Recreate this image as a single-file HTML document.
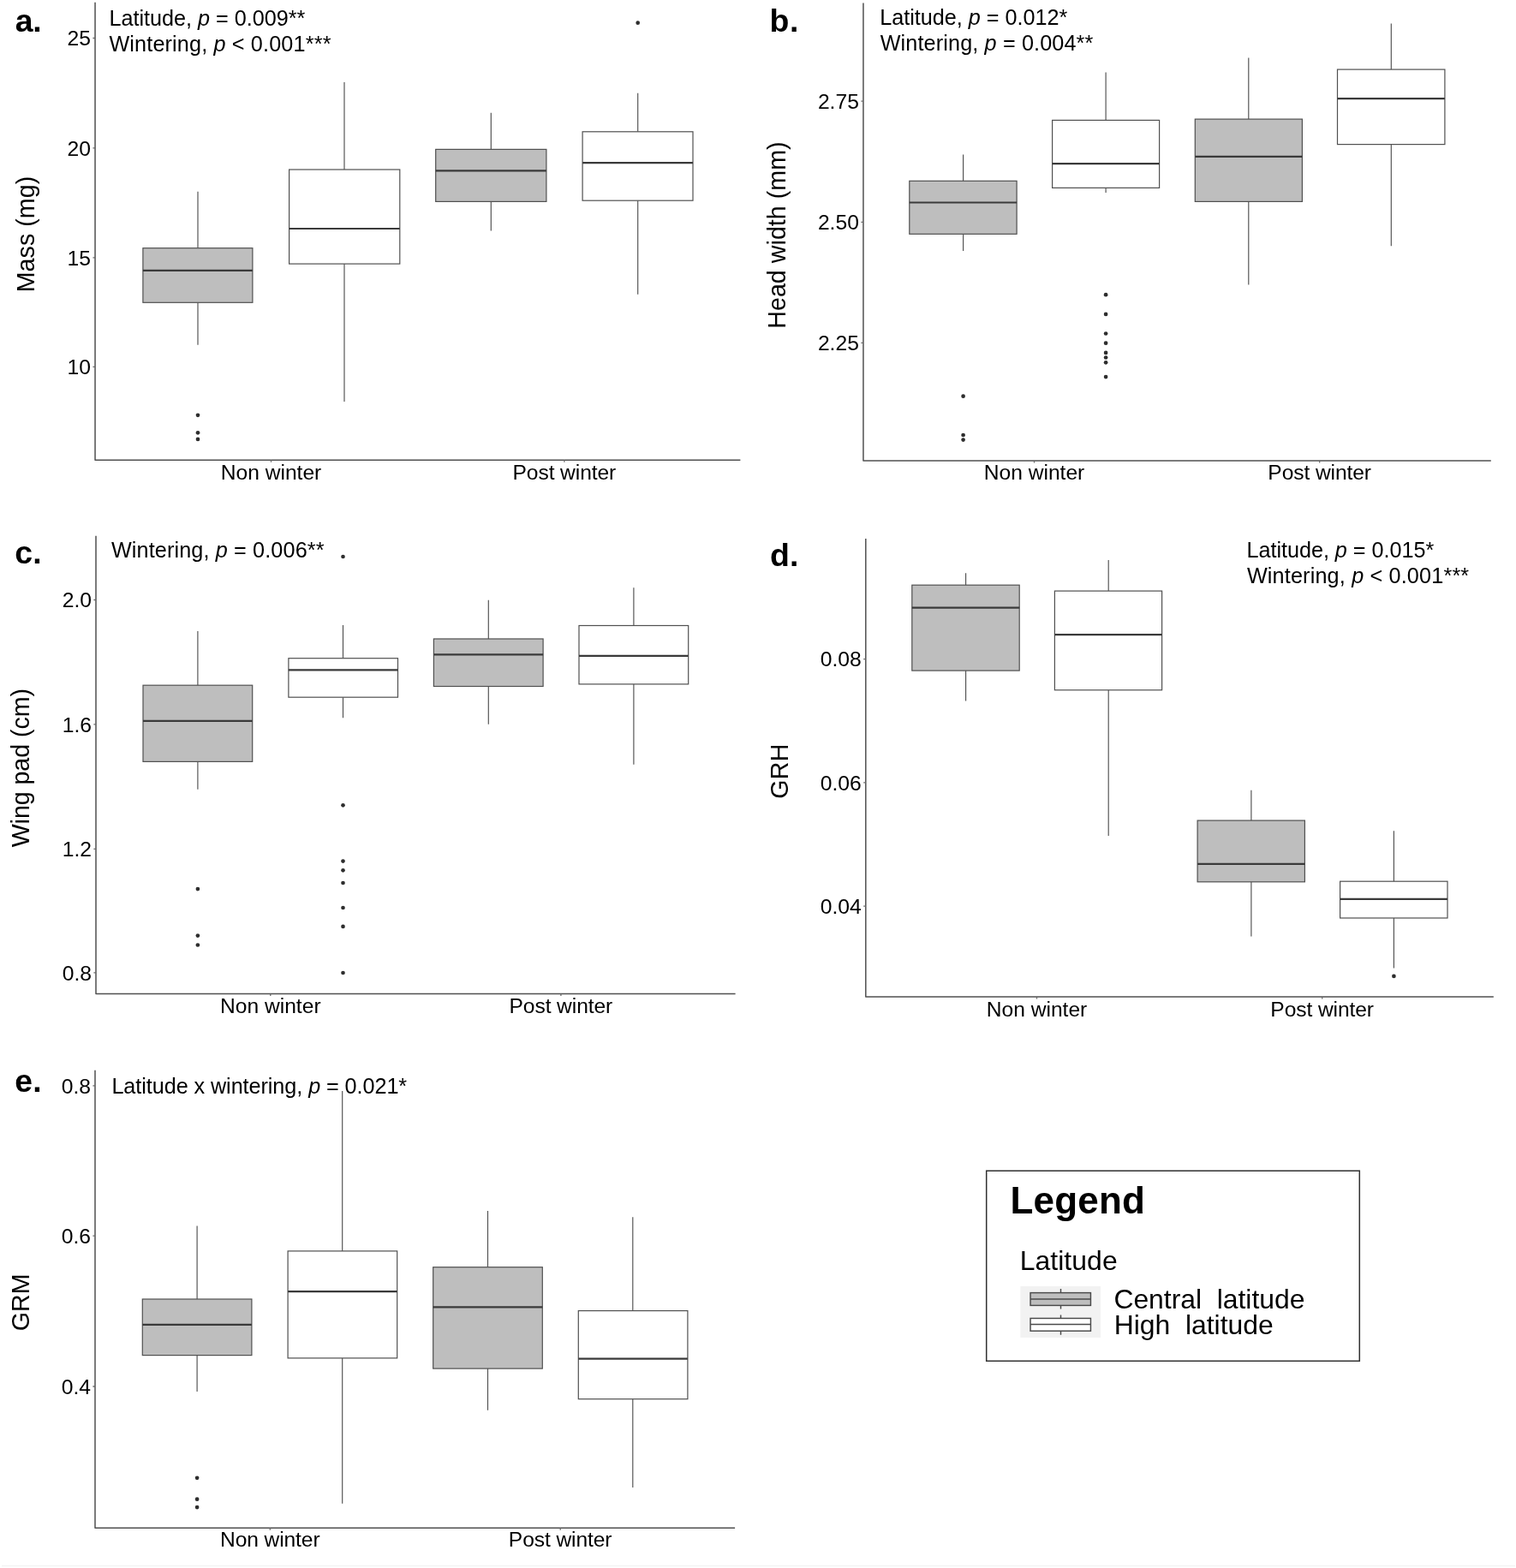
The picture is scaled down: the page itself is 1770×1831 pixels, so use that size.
<!DOCTYPE html>
<html lang="en"><head><meta charset="utf-8"><title>Figure: body size and growth rate box plots</title>
<style>
html,body{margin:0;padding:0;background:#fff;}
body{width:1770px;height:1831px;}
svg{display:block;}
text{font-family:"Liberation Sans", sans-serif;fill:#000;white-space:pre;}
.tk{font-size:24.7px;text-anchor:end;}
.xl{font-size:24.6px;text-anchor:middle;}
.an{font-size:25.2px;}
.yl{font-size:28.6px;}
.pl{font-size:37.4px;font-weight:bold;}
.lt{font-size:44px;font-weight:bold;}
.ll{font-size:31.9px;}
.ax{stroke:#505050;stroke-width:1.5;fill:none;stroke-linejoin:round;}
.tm{stroke:#6a6a6a;stroke-width:1.3;fill:none;}
.bx{stroke:#505050;stroke-width:1.2;}
.wh{stroke:#505050;stroke-width:1.15;fill:none;}
.md{stroke:#3a3a3a;stroke-width:2.2;fill:none;}
.pt{fill:#2e2e2e;}
</style></head><body>
<svg width="1770" height="1831" viewBox="0 0 1770 1831" role="img" aria-label="Box plots of mass, head width, wing pad, GRH and GRM by wintering and latitude">
<rect x="0" y="0" width="1770" height="1831" fill="#ffffff"/>
<g id="panel-a">
<path class="wh" d="M231 223.7V289.7M231 353.3V402.7"/>
<rect class="bx" x="166.9" y="289.7" width="128" height="63.6" fill="#bebebe"/>
<path class="md" d="M166.9 315.8H294.9"/>
<circle class="pt" cx="231" cy="484.8" r="2.35"/>
<circle class="pt" cx="231" cy="505.3" r="2.35"/>
<circle class="pt" cx="231" cy="512.9" r="2.35"/>
<path class="wh" d="M402 96.1V198M402 308.1V469.1"/>
<rect class="bx" x="337.6" y="198" width="129.2" height="110.1" fill="#fff"/>
<path class="md" d="M337.6 267H466.8"/>
<path class="wh" d="M573.3 131.7V174.4M573.3 235.4V269.5"/>
<rect class="bx" x="508.7" y="174.4" width="129.2" height="61" fill="#bebebe"/>
<path class="md" d="M508.7 199.3H637.9"/>
<path class="wh" d="M744.7 108.8V153.8M744.7 234.2V343.7"/>
<rect class="bx" x="680.1" y="153.8" width="128.9" height="80.4" fill="#fff"/>
<path class="md" d="M680.1 190.2H809"/>
<circle class="pt" cx="744.7" cy="26.7" r="2.35"/>
<path class="ax" d="M111.05 2.8V537.2H864.4"/>
<path class="tm" d="M108.45 44.5H111.05M108.45 172.9H111.05M108.45 300.9H111.05M108.45 428.4H111.05M316.5 537.2V539.8M658.9 537.2V539.8"/>
<text class="tk" x="106.05" y="53.39">25</text>
<text class="tk" x="106.05" y="181.79">20</text>
<text class="tk" x="106.05" y="309.79">15</text>
<text class="tk" x="106.05" y="437.29">10</text>
<text class="xl" x="316.5" y="559.8">Non winter</text>
<text class="xl" x="658.85" y="559.8" letter-spacing="-0.1">Post winter</text>
<text class="yl" transform="translate(40.2 339) rotate(-90)" x="-2.35" y="0" letter-spacing="0.07">Mass (mg)</text>
<text class="pl" xml:space="preserve" x="17.7" y="37" letter-spacing="-0.12">a.</text>
<text class="an" xml:space="preserve" x="127.43" y="30.2">Latitude, <tspan font-style="italic">p</tspan> = 0.009**</text>
<text class="an" xml:space="preserve" x="127.39" y="59.7" letter-spacing="0.16">Wintering, <tspan font-style="italic">p</tspan> &lt; 0.001***</text>
</g>
<g id="panel-b">
<path class="wh" d="M1124.6 180.5V211.3M1124.6 273.3V292.9"/>
<rect class="bx" x="1061.8" y="211.3" width="125.3" height="62" fill="#bebebe"/>
<path class="md" d="M1061.8 236.5H1187.1"/>
<circle class="pt" cx="1124.6" cy="462.7" r="2.35"/>
<circle class="pt" cx="1124.6" cy="508" r="2.35"/>
<circle class="pt" cx="1124.6" cy="513.6" r="2.35"/>
<path class="wh" d="M1291.1 84.4V140.4M1291.1 219.4V225"/>
<rect class="bx" x="1228.6" y="140.4" width="125" height="79" fill="#fff"/>
<path class="md" d="M1228.6 191.2H1353.6"/>
<circle class="pt" cx="1291.1" cy="344.2" r="2.35"/>
<circle class="pt" cx="1291.1" cy="366.9" r="2.35"/>
<circle class="pt" cx="1291.1" cy="389.5" r="2.35"/>
<circle class="pt" cx="1291.1" cy="400.7" r="2.35"/>
<circle class="pt" cx="1291.1" cy="411.9" r="2.35"/>
<circle class="pt" cx="1291.1" cy="417.5" r="2.35"/>
<circle class="pt" cx="1291.1" cy="423.3" r="2.35"/>
<circle class="pt" cx="1291.1" cy="440.1" r="2.35"/>
<path class="wh" d="M1457.8 67.4V139.1M1457.8 235.4V332.5"/>
<rect class="bx" x="1395.3" y="139.1" width="125.1" height="96.3" fill="#bebebe"/>
<path class="md" d="M1395.3 182.8H1520.4"/>
<path class="wh" d="M1624.3 27.5V81.1M1624.3 168.6V287.3"/>
<rect class="bx" x="1561.5" y="81.1" width="125.4" height="87.5" fill="#fff"/>
<path class="md" d="M1561.5 115.2H1686.9"/>
<path class="ax" d="M1007.95 3.5V537.9H1740.8"/>
<path class="tm" d="M1005.35 118.2H1007.95M1005.35 259.3H1007.95M1005.35 400.4H1007.95M1207.5 537.9V540.5M1540.7 537.9V540.5"/>
<text class="tk" x="1002.95" y="127.09">2.75</text>
<text class="tk" x="1002.95" y="268.19">2.50</text>
<text class="tk" x="1002.95" y="409.29">2.25</text>
<text class="xl" x="1207.5" y="560.2">Non winter</text>
<text class="xl" x="1540.65" y="560.2" letter-spacing="-0.1">Post winter</text>
<text class="yl" transform="translate(916.6 381.4) rotate(-90)" x="-2.35" y="0" letter-spacing="0.05">Head width (mm)</text>
<text class="pl" xml:space="preserve" x="898.53" y="37.2" letter-spacing="0.6">b.</text>
<text class="an" xml:space="preserve" x="1027.13" y="29.4">Latitude, <tspan font-style="italic">p</tspan> = 0.012*</text>
<text class="an" xml:space="preserve" x="1027.69" y="58.7" letter-spacing="0.14">Wintering, <tspan font-style="italic">p</tspan> = 0.004**</text>
</g>
<g id="panel-c">
<path class="wh" d="M230.9 737.1V800.2M230.9 889.4V921.7"/>
<rect class="bx" x="167" y="800.2" width="127.7" height="89.2" fill="#bebebe"/>
<path class="md" d="M167 841.9H294.7"/>
<circle class="pt" cx="230.9" cy="1038.1" r="2.35"/>
<circle class="pt" cx="230.9" cy="1092.6" r="2.35"/>
<circle class="pt" cx="230.9" cy="1103.5" r="2.35"/>
<path class="wh" d="M400.5 730V768.7M400.5 814.2V838.3"/>
<rect class="bx" x="336.9" y="768.7" width="127.6" height="45.5" fill="#fff"/>
<path class="md" d="M336.9 782.4H464.5"/>
<circle class="pt" cx="400.5" cy="650" r="2.35"/>
<circle class="pt" cx="400.5" cy="940.3" r="2.35"/>
<circle class="pt" cx="400.5" cy="1005.6" r="2.35"/>
<circle class="pt" cx="400.5" cy="1016.3" r="2.35"/>
<circle class="pt" cx="400.5" cy="1031" r="2.35"/>
<circle class="pt" cx="400.5" cy="1060" r="2.35"/>
<circle class="pt" cx="400.5" cy="1081.9" r="2.35"/>
<circle class="pt" cx="400.5" cy="1136" r="2.35"/>
<path class="wh" d="M570.3 700.8V746M570.3 801.5V845.7"/>
<rect class="bx" x="506.4" y="746" width="127.7" height="55.5" fill="#bebebe"/>
<path class="md" d="M506.4 764.3H634.1"/>
<path class="wh" d="M739.9 686.3V730.5M739.9 798.9V892.7"/>
<rect class="bx" x="676" y="730.5" width="127.7" height="68.4" fill="#fff"/>
<path class="md" d="M676 765.9H803.7"/>
<path class="ax" d="M112 625.8V1160.4H858.6"/>
<path class="tm" d="M109.4 700.5H112M109.4 845.9H112M109.4 991.4H112M109.4 1135.8H112M315.8 1160.4V1163M654.9 1160.4V1163"/>
<text class="tk" x="107" y="709.39">2.0</text>
<text class="tk" x="107" y="854.79">1.6</text>
<text class="tk" x="107" y="1000.29">1.2</text>
<text class="tk" x="107" y="1144.69">0.8</text>
<text class="xl" x="315.8" y="1182.7">Non winter</text>
<text class="xl" x="654.85" y="1182.7" letter-spacing="-0.1">Post winter</text>
<text class="yl" transform="translate(34.2 989.2) rotate(-90)" x="-0.13" y="0" letter-spacing="-0.05">Wing pad (cm)</text>
<text class="pl" xml:space="preserve" x="17.34" y="657.6" letter-spacing="0.24">c.</text>
<text class="an" xml:space="preserve" x="129.89" y="651.2" letter-spacing="0.14">Wintering, <tspan font-style="italic">p</tspan> = 0.006**</text>
</g>
<g id="panel-d">
<path class="wh" d="M1127.6 669.2V683.2M1127.6 783.1V818.5"/>
<rect class="bx" x="1064.8" y="683.2" width="125.4" height="99.9" fill="#bebebe"/>
<path class="md" d="M1064.8 709.7H1190.2"/>
<path class="wh" d="M1294.2 654V690.1M1294.2 805.8V976.1"/>
<rect class="bx" x="1231.4" y="690.1" width="125.2" height="115.7" fill="#fff"/>
<path class="md" d="M1231.4 741.2H1356.6"/>
<path class="wh" d="M1460.9 922.7V958.1M1460.9 1029.8V1093.6"/>
<rect class="bx" x="1398.1" y="958.1" width="125.3" height="71.7" fill="#bebebe"/>
<path class="md" d="M1398.1 1008.9H1523.4"/>
<path class="wh" d="M1627.4 970.3V1029.2M1627.4 1072V1130.4"/>
<rect class="bx" x="1564.6" y="1029.2" width="125.4" height="42.8" fill="#fff"/>
<path class="md" d="M1564.6 1049.8H1690"/>
<circle class="pt" cx="1627.4" cy="1139.9" r="2.35"/>
<path class="ax" d="M1010.8 629V1163.95H1743.8"/>
<path class="tm" d="M1008.2 769.6H1010.8M1008.2 913.8H1010.8M1008.2 1058.1H1010.8M1210.5 1163.95V1166.55M1543.7 1163.95V1166.55"/>
<text class="tk" x="1005.8" y="778.49">0.08</text>
<text class="tk" x="1005.8" y="922.69">0.06</text>
<text class="tk" x="1005.8" y="1066.99">0.04</text>
<text class="xl" x="1210.5" y="1186.5">Non winter</text>
<text class="xl" x="1543.65" y="1186.5" letter-spacing="-0.1">Post winter</text>
<text class="yl" transform="translate(919.7 931.2) rotate(-90)" x="-1.44" y="0" letter-spacing="0.26">GRH</text>
<text class="pl" xml:space="preserve" x="898.97" y="661.2" letter-spacing="0.17">d.</text>
<text class="an" xml:space="preserve" x="1455.43" y="650.9" letter-spacing="-0.02">Latitude, <tspan font-style="italic">p</tspan> = 0.015*</text>
<text class="an" xml:space="preserve" x="1455.89" y="680.5" letter-spacing="0.17">Wintering, <tspan font-style="italic">p</tspan> &lt; 0.001***</text>
</g>
<g id="panel-e">
<path class="wh" d="M230.1 1431.4V1517M230.1 1582.6V1625.1"/>
<rect class="bx" x="166.3" y="1517" width="127.6" height="65.6" fill="#bebebe"/>
<path class="md" d="M166.3 1546.8H293.9"/>
<circle class="pt" cx="230.1" cy="1725.8" r="2.35"/>
<circle class="pt" cx="230.1" cy="1750.7" r="2.35"/>
<circle class="pt" cx="230.1" cy="1760.1" r="2.35"/>
<path class="wh" d="M399.7 1274V1460.9M399.7 1585.9V1755.8"/>
<rect class="bx" x="336.1" y="1460.9" width="127.6" height="125" fill="#fff"/>
<path class="md" d="M336.1 1508.1H463.7"/>
<path class="wh" d="M569.5 1414.1V1479.7M569.5 1598.1V1646.7"/>
<rect class="bx" x="505.7" y="1479.7" width="127.6" height="118.4" fill="#bebebe"/>
<path class="md" d="M505.7 1526.4H633.3"/>
<path class="wh" d="M738.8 1421.2V1530.6M738.8 1633.7V1737"/>
<rect class="bx" x="675.3" y="1530.6" width="127.6" height="103.1" fill="#fff"/>
<path class="md" d="M675.3 1586.7H802.9"/>
<path class="ax" d="M111 1249.8V1784.2H858.1"/>
<path class="tm" d="M108.4 1267.9H111M108.4 1443.1H111M108.4 1619H111M315.3 1784.2V1786.8M654.2 1784.2V1786.8"/>
<text class="tk" x="106" y="1276.79">0.8</text>
<text class="tk" x="106" y="1451.99">0.6</text>
<text class="tk" x="106" y="1627.89">0.4</text>
<text class="xl" x="315.25" y="1806.4" letter-spacing="-0.1">Non winter</text>
<text class="xl" x="654.15" y="1806.4" letter-spacing="-0.1">Post winter</text>
<text class="yl" transform="translate(33.8 1552.9) rotate(-90)" x="-1.44" y="0" letter-spacing="0.08">GRM</text>
<text class="pl" xml:space="preserve" x="17.34" y="1275" letter-spacing="0.24">e.</text>
<text class="an" xml:space="preserve" x="130.43" y="1277.3" letter-spacing="-0.06">Latitude x wintering, <tspan font-style="italic">p</tspan> = 0.021*</text>
</g>
<g id="legend">
<rect x="1151.7" y="1367.2" width="435.6" height="222.1" fill="#fff" stroke="#303030" stroke-width="1.5"/>
<text class="lt" xml:space="preserve" x="1179.46" y="1417" letter-spacing="0.2">Legend</text>
<text class="ll" xml:space="preserve" x="1190.68" y="1482.9" letter-spacing="0.07">Latitude</text>
<rect x="1191.3" y="1501.9" width="93.8" height="60.1" fill="#f2f2f2"/>
<g stroke="#4a4a4a" stroke-width="1.45">
<path fill="none" d="M1238.5 1505.1V1528.4M1238.5 1535.4V1558.8"/>
<rect x="1203.05" y="1509.6" width="70.4" height="14.8" fill="#bebebe"/>
<path fill="none" d="M1203.05 1517H1273.45"/>
<rect x="1203.05" y="1539.45" width="70.4" height="14.75" fill="#fff"/>
<path fill="none" d="M1203.05 1546.55H1273.45"/>
</g>
<text class="ll" xml:space="preserve" x="1300.38" y="1527.6" letter-spacing="-0.02">Central  latitude</text>
<text class="ll" xml:space="preserve" x="1300.68" y="1557.5" letter-spacing="-0.01">High  latitude</text>
</g>
<path d="M2 1828.5H1769" stroke="#f3f3f3" stroke-width="1.4" fill="none"/>
</svg>
</body></html>
